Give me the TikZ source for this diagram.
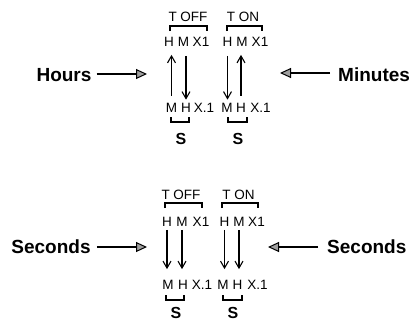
\documentclass[tikz,border=0pt]{standalone}
\usepackage{fontspec}
\setmainfont{Liberation Sans}
\usetikzlibrary{arrows.meta}
\begin{document}
\begin{tikzpicture}[x=1pt,y=-1pt,
  lab/.style={inner sep=0pt,font=\fontsize{13.5}{13.5}\selectfont},
  big/.style={inner sep=0pt,font=\fontsize{19}{19}\selectfont\bfseries},
  sb/.style={inner sep=0pt,font=\fontsize{16}{16}\selectfont\bfseries},
  varr/.style={line width=1.4pt,-{Straight Barb[length=7pt,width=8pt,line width=1.1pt]}},
  harr/.style={line width=1.4pt,-{Triangle[length=11pt,width=10pt,fill=gray!75,line width=1pt]}},
  brk/.style={line width=1.1pt}]
\useasboundingbox (0,0) rectangle (409,322);
% ---------- top half ----------
\node[lab] (off1) at (188,16.5) {T OFF};
\node[lab] (on1) at (243,16.5) {T ON};
\draw[brk] (170,31) -- (170,26) -- (207,26) -- (207,31);
\draw[brk] (227,31) -- (227,26) -- (262,26) -- (262,31);
\node[lab] (tH1) at (169,42) {H};
\node[lab] (tM1) at (183.5,42) {M};
\node[lab] (tX1) at (201,42) {X1};
\node[lab] (tH2) at (227.5,42) {H};
\node[lab] (tM2) at (242,42) {M};
\node[lab] (tX2) at (260,42) {X1};
\node[lab] (bM1) at (171.5,107.5) {M};
\node[lab] (bH1) at (186,107.5) {H};
\node[lab] (bXa) at (204,107.5) {X.1};
\node[lab] (bM2) at (227,107.5) {M};
\node[lab] (bH2) at (241,107.5) {H};
\node[lab] (bXb) at (260.5,107.5) {X.1};
\draw[brk] (171,117) -- (171,122) -- (189,122) -- (189,117);
\draw[brk] (228,117) -- (228,122) -- (247,122) -- (247,117);
\node[sb] (s1) at (181,139) {S};
\node[sb] (s2) at (238,139) {S};
\draw[varr,shorten <=7pt,shorten >=8pt] (bM1.north) -- (bM1.north |- tH1.south);
\draw[varr,shorten <=9pt,shorten >=3pt] (bH1.north |- tM1.south) -- (bH1.north);
\draw[varr,shorten <=9pt,shorten >=3pt] (tH2.south) -- (tH2.south |- bM2.north);
\draw[varr,shorten <=7pt,shorten >=8pt] (bH2.north) -- (bH2.north |- tM2.south);
\node[big] (hours) at (64,75) {Hours};
\node[big,anchor=west] (minutes) at (338,75) {Minutes};
\coordinate (hTip) at (147,74);
\coordinate (mTip) at (280,73);
\draw[harr,shorten <=5pt] (hours.east |- hTip) -- (hTip);
\draw[harr,shorten <=8pt] (minutes.west |- mTip) -- (mTip);
% ---------- bottom half ----------
\node[lab] (off2) at (181,194.5) {T OFF};
\node[lab] (on2) at (238.5,194.5) {T ON};
\draw[brk] (165,208) -- (165,203) -- (202,203) -- (202,208);
\draw[brk] (222,208) -- (222,203) -- (258,203) -- (258,208);
\node[lab] (tH3) at (167,222) {H};
\node[lab] (tM3) at (182,222) {M};
\node[lab] (tX3) at (201,222) {X1};
\node[lab] (tH4) at (224.5,222) {H};
\node[lab] (tM4) at (239,222) {M};
\node[lab] (tX4) at (256.5,222) {X1};
\node[lab] (bM3) at (168,285) {M};
\node[lab] (bH3) at (183,285) {H};
\node[lab] (bXc) at (202,285) {X.1};
\node[lab] (bM4) at (223,285) {M};
\node[lab] (bH4) at (237.5,285) {H};
\node[lab] (bXd) at (257.5,285) {X.1};
\draw[brk] (166,295) -- (166,300) -- (184,300) -- (184,295);
\draw[brk] (223,295) -- (223,300) -- (242,300) -- (242,295);
\node[sb] (s3) at (176,313) {S};
\node[sb] (s4) at (233,313) {S};
\draw[varr,shorten <=3pt,shorten >=11pt] (tH3.south) -- (tH3.south |- bM3.north);
\draw[varr,shorten <=3pt,shorten >=11pt] (tM3.south) -- (tM3.south |- bH3.north);
\draw[varr,shorten <=3pt,shorten >=11pt] (tH4.south) -- (tH4.south |- bM4.north);
\draw[varr,shorten <=3pt,shorten >=11pt] (tM4.south) -- (tM4.south |- bH4.north);
\node[big] (secL) at (51,247) {Seconds};
\node[big,anchor=west] (secR) at (327,247) {Seconds};
\coordinate (sTipL) at (147,247);
\coordinate (sTipR) at (268,247);
\draw[harr,shorten <=6pt] (secL.east |- sTipL) -- (sTipL);
\draw[harr,shorten <=9pt] (secR.west |- sTipR) -- (sTipR);
\end{tikzpicture}
\end{document}
